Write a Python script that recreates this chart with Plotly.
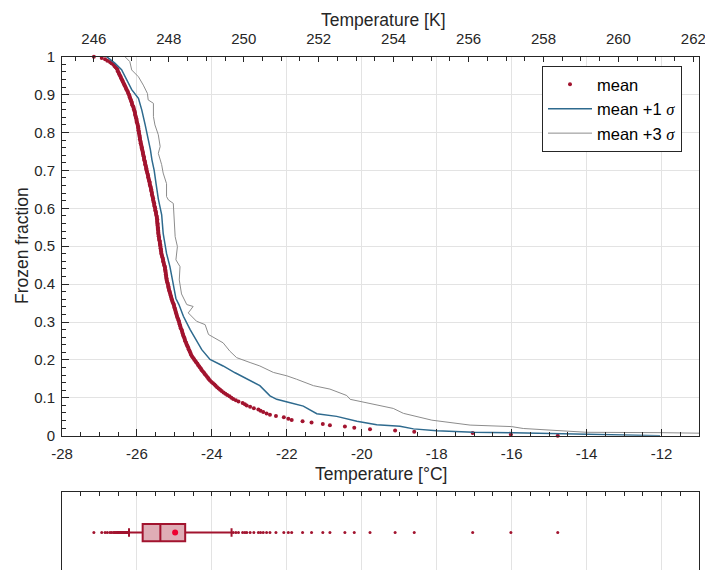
import numpy as np
import plotly.graph_objects as go

# ---- data ----
# freezing temperature of each droplet (mean), warmest first [°C]
mean_temp = [
    -14.77, -16.02, -17.04, -18.60, -19.11, -19.78, -20.20, -20.45, -20.85, -21.04,
    -21.34, -21.58, -21.87, -21.96, -22.08, -22.29, -22.45, -22.54, -22.63, -22.70,
    -22.76, -22.88, -22.98, -23.07, -23.12, -23.18, -23.29, -23.36, -23.43, -23.48,
    -23.53, -23.59, -23.64, -23.69, -23.74, -23.78, -23.82, -23.86, -23.90, -23.93,
    -23.97, -24.01, -24.05, -24.08, -24.10, -24.13, -24.16, -24.19, -24.21, -24.24,
    -24.27, -24.29, -24.32, -24.34, -24.37, -24.39, -24.42, -24.44, -24.47, -24.49,
    -24.52, -24.54, -24.56, -24.57, -24.59, -24.60, -24.62, -24.63, -24.65, -24.66,
    -24.68, -24.69, -24.71, -24.72, -24.73, -24.74, -24.76, -24.77, -24.78, -24.79,
    -24.80, -24.81, -24.83, -24.84, -24.85, -24.86, -24.87, -24.88, -24.89, -24.90,
    -24.92, -24.93, -24.94, -24.95, -24.96, -24.97, -24.98, -24.99, -25.00, -25.01,
    -25.02, -25.03, -25.05, -25.06, -25.07, -25.08, -25.09, -25.10, -25.11, -25.12,
    -25.13, -25.14, -25.15, -25.16, -25.16, -25.17, -25.18, -25.19, -25.20, -25.21,
    -25.21, -25.22, -25.22, -25.23, -25.23, -25.24, -25.24, -25.25, -25.25, -25.26,
    -25.27, -25.28, -25.29, -25.30, -25.30, -25.31, -25.32, -25.33, -25.34, -25.35,
    -25.35, -25.36, -25.36, -25.37, -25.37, -25.38, -25.38, -25.39, -25.39, -25.40,
    -25.41, -25.41, -25.42, -25.42, -25.43, -25.43, -25.43, -25.44, -25.44, -25.44,
    -25.45, -25.45, -25.45, -25.46, -25.46, -25.46, -25.47, -25.47, -25.48, -25.49,
    -25.49, -25.50, -25.51, -25.51, -25.52, -25.53, -25.54, -25.54, -25.55, -25.56,
    -25.57, -25.57, -25.58, -25.59, -25.60, -25.60, -25.61, -25.62, -25.62, -25.63,
    -25.64, -25.65, -25.66, -25.66, -25.67, -25.68, -25.69, -25.70, -25.70, -25.71,
    -25.72, -25.73, -25.74, -25.75, -25.75, -25.76, -25.77, -25.78, -25.78, -25.79,
    -25.80, -25.81, -25.81, -25.82, -25.83, -25.84, -25.84, -25.85, -25.86, -25.87,
    -25.87, -25.88, -25.89, -25.90, -25.90, -25.91, -25.92, -25.92, -25.93, -25.93,
    -25.94, -25.95, -25.95, -25.96, -25.96, -25.97, -25.97, -25.98, -25.99, -26.00,
    -26.01, -26.01, -26.02, -26.03, -26.04, -26.05, -26.05, -26.06, -26.07, -26.08,
    -26.09, -26.10, -26.12, -26.13, -26.14, -26.15, -26.16, -26.18, -26.19, -26.20,
    -26.21, -26.23, -26.24, -26.26, -26.28, -26.29, -26.31, -26.33, -26.34, -26.36,
    -26.38, -26.39, -26.41, -26.43, -26.44, -26.46, -26.48, -26.49, -26.51, -26.52,
    -26.54, -26.57, -26.60, -26.63, -26.68, -26.72, -26.79, -26.85, -26.94, -27.15,
]

# mean + 1 sigma curve (temperature, frozen fraction)
sig1_temp = [-26.81, -26.59, -26.41, -26.27, -26.14, -25.96, -25.87, -25.78, -25.70, -25.64,
             -25.60, -25.54, -25.49, -25.43, -25.34, -25.30, -25.21, -25.12, -25.05, -24.96,
             -24.88, -24.76, -24.58, -24.45, -24.27, -24.05, -23.70, -23.38, -23.07, -22.72,
             -22.45, -22.27, -21.91, -21.56, -21.20, -20.67, -20.13, -19.60, -18.98, -18.62,
             -18.00, -17.02, -15.95, -14.18, -12.04]
sig1_frac = [1.000, 0.983, 0.966, 0.939, 0.913, 0.890, 0.859, 0.820, 0.784, 0.754,
             0.728, 0.700, 0.665, 0.625, 0.583, 0.534, 0.481, 0.446, 0.410, 0.362,
             0.346, 0.315, 0.280, 0.258, 0.227, 0.201, 0.184, 0.166, 0.149, 0.132,
             0.105, 0.096, 0.087, 0.078, 0.058, 0.051, 0.038, 0.029, 0.025, 0.018,
             0.013, 0.009, 0.008, 0.004, 0.000]

# mean + 3 sigma curve (temperature, frozen fraction)
sig3_temp = [-26.32, -26.19, -26.14, -25.96, -25.83, -25.72, -25.70, -25.56, -25.56, -25.52,
             -25.43, -25.38, -25.43, -25.38, -25.34, -25.30, -25.21, -25.21, -25.16, -25.03,
             -25.01, -24.98, -24.92, -24.96, -24.85, -24.87, -24.81, -24.67, -24.50, -24.63,
             -24.41, -24.18, -24.09, -23.87, -23.70, -23.52, -23.34, -22.98, -22.72, -22.36,
             -22.00, -21.74, -21.29, -20.85, -20.40, -20.31, -19.60, -19.16, -18.89, -18.13,
             -17.11, -16.00, -15.69, -14.53, -14.00, -12.04, -10.50]
sig3_frac = [1.000, 0.987, 0.965, 0.947, 0.925, 0.903, 0.886, 0.877, 0.842, 0.820,
             0.794, 0.763, 0.745, 0.728, 0.715, 0.693, 0.665, 0.631, 0.622, 0.613,
             0.578, 0.525, 0.499, 0.464, 0.446, 0.411, 0.374, 0.346, 0.341, 0.324,
             0.302, 0.293, 0.267, 0.254, 0.245, 0.223, 0.206, 0.193, 0.184, 0.167,
             0.158, 0.149, 0.132, 0.123, 0.106, 0.096, 0.080, 0.072, 0.059, 0.041,
             0.028, 0.024, 0.019, 0.012, 0.009, 0.008, 0.006]

x_tickvals = [-28, -26, -24, -22, -20, -18, -16, -14, -12]
x_ticktext = ["-28", "-26", "-24", "-22", "-20", "-18", "-16", "-14", "-12"]
k_tickvals = [246, 248, 250, 252, 254, 256, 258, 260, 262]

# ---- derived ----
temps = np.array(mean_temp)
N = len(temps)
frac = np.arange(N) / (N - 1)
p10, q1, med, q3, p90 = np.percentile(temps, [10, 25, 50, 75, 90])
tmean = temps.mean()
outl = temps[(temps < p10) | (temps > p90)]

RED = "#A2142F"
BLUE = "#2E6A8E"
GREY = "#8C8C8C"
AX = "#262626"
GRID = "#E3E3E3"
FONT = "Liberation Sans, Arial, Helvetica, sans-serif"

W, H = 705, 570
ML, MR = 62, 6
PW = W - ML - MR


def px_x(px):
    return (px - ML) / PW


def px_y(py):
    return (H - py) / H


fig = go.Figure()
fig.add_trace(go.Scatter(x=temps, y=frac, mode="markers", name="mean",
                         marker=dict(color=RED, size=4), cliponaxis=False,
                         xaxis="x", yaxis="y"))
fig.add_trace(go.Scatter(x=sig1_temp, y=sig1_frac, mode="lines",
                         name='mean +1 <span style="font-family:Liberation Serif"><i>σ</i></span>',
                         line=dict(color=BLUE, width=1.5), xaxis="x", yaxis="y"))
fig.add_trace(go.Scatter(x=sig3_temp, y=sig3_frac, mode="lines",
                         name='mean +3 <span style="font-family:Liberation Serif"><i>σ</i></span>',
                         line=dict(color=GREY, width=1), xaxis="x", yaxis="y"))
# Kelvin axis carrier (invisible)
fig.add_trace(go.Scatter(x=[245.15, 262.15], y=[0.5, 0.5], mode="markers",
                         marker=dict(opacity=0), showlegend=False, hoverinfo="skip",
                         xaxis="x3", yaxis="y"))
# box plot
fig.add_trace(go.Box(y=[0], q1=[q1], median=[med], q3=[q3],
                     lowerfence=[p10], upperfence=[p90], orientation="h",
                     fillcolor="rgba(162,20,47,0.35)", line=dict(color=RED, width=2),
                     whiskerwidth=0.5, width=0.44, boxpoints=False, showlegend=False,
                     xaxis="x2", yaxis="y2"))
fig.add_trace(go.Scatter(x=outl, y=[0] * len(outl), mode="markers",
                         marker=dict(color=RED, size=3), showlegend=False,
                         xaxis="x2", yaxis="y2"))
fig.add_trace(go.Scatter(x=[tmean], y=[0], mode="markers",
                         marker=dict(color="#EE0030", size=6), showlegend=False,
                         xaxis="x2", yaxis="y2"))

main_bottom = px_y(435.7)
main_top = px_y(56.7)
box_top = px_y(492)

fig.update_layout(
    width=W, height=H,
    margin=dict(l=ML, r=MR, t=0, b=0, autoexpand=False),
    paper_bgcolor="white", plot_bgcolor="white",
    font=dict(family=FONT, color=AX, size=15),
    xaxis=dict(domain=[0, 1], anchor="y", range=[-28, -11], automargin=False,
               tickmode="array", tickvals=x_tickvals, ticktext=x_ticktext,
               ticks="inside", ticklen=7, tickcolor=AX, showline=True, linecolor=AX,
               linewidth=1, mirror=False, showgrid=True, gridcolor=GRID, zeroline=False,
               tickfont=dict(size=15), ticklabeloverflow="allow", ticklabelstandoff=4,
               minor=dict(tickmode="linear", tick0=-28, dtick=0.5, ticks="inside",
                          ticklen=4, tickcolor=AX, showgrid=False)),
    yaxis=dict(domain=[main_bottom, main_top], anchor="x", range=[0, 1], automargin=False,
               tickmode="linear", tick0=0, dtick=0.1,
               ticks="inside", ticklen=7, tickcolor=AX, showline=True, linecolor=AX,
               linewidth=1, mirror=True, showgrid=True, gridcolor=GRID, zeroline=False,
               tickfont=dict(size=15), ticklabeloverflow="allow", ticklabelstandoff=3,
               minor=dict(tickmode="linear", tick0=0, dtick=0.02, ticks="inside",
                          ticklen=4, tickcolor=AX, showgrid=False)),
    xaxis3=dict(overlaying="x", side="top", anchor="y", range=[245.15, 262.15],
                automargin=False, ticklabeloverflow="allow", ticklabelstandoff=6,
                tickmode="array", tickvals=k_tickvals,
                ticks="inside", ticklen=5, tickcolor=AX, showline=True, linecolor=AX,
                linewidth=1, showgrid=False, zeroline=False, tickfont=dict(size=15),
                minor=dict(tickmode="linear", tick0=246, dtick=0.5, ticks="inside",
                           ticklen=4, tickcolor=AX, showgrid=False)),
    xaxis2=dict(domain=[0, 1], anchor="y2", range=[-28, -11], side="top", automargin=False,
                tickmode="array", tickvals=x_tickvals, showticklabels=False,
                ticks="inside", ticklen=4, tickcolor=AX, showline=True, linecolor=AX,
                linewidth=1, showgrid=True, gridcolor=GRID, zeroline=False,
                minor=dict(tickmode="linear", tick0=-28, dtick=0.5, ticks="inside",
                           ticklen=4, tickcolor=AX, showgrid=False)),
    yaxis2=dict(domain=[0, box_top], anchor="x2", range=[-0.96, 1.04], automargin=False,
                showticklabels=False, ticks="", showline=True, linecolor=AX,
                linewidth=1, mirror=True, showgrid=False, zeroline=False),
    legend=dict(x=px_x(542), y=px_y(66), xanchor="left", yanchor="top",
                bgcolor="white", bordercolor=AX, borderwidth=1, itemwidth=44,
                font=dict(size=16.5, family=FONT, color="#000000"),
                tracegroupgap=0),
    annotations=[
        dict(text="Temperature [°C]", x=px_x(380.5), y=px_y(474),
             xref="paper", yref="paper", showarrow=False, xanchor="center",
             yanchor="middle", font=dict(size=17.5)),
        dict(text="Temperature [K]", x=px_x(383), y=px_y(20),
             xref="paper", yref="paper", showarrow=False, xanchor="center",
             yanchor="middle", font=dict(size=17.5)),
        dict(text="Frozen fraction", x=px_x(22), y=px_y(246),
             xref="paper", yref="paper", showarrow=False, xanchor="center",
             yanchor="middle", textangle=-90, font=dict(size=17.5)),
    ],
)

fig.write_html("out.html")
